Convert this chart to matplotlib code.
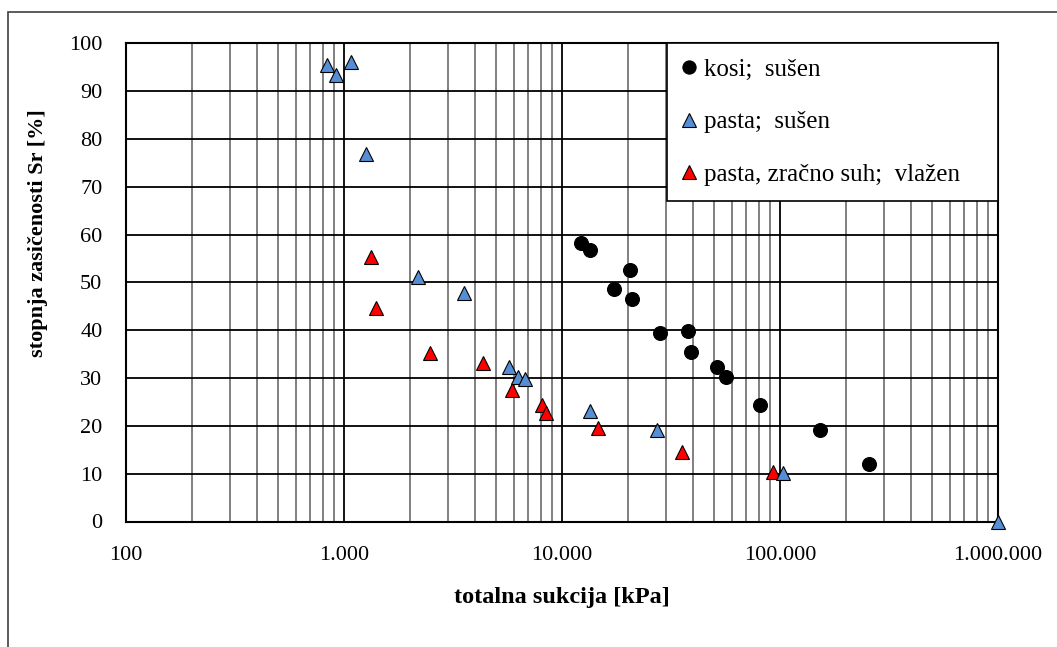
import matplotlib.pyplot as plt
from matplotlib.patches import Rectangle
from matplotlib.ticker import FixedLocator, FuncFormatter
import numpy as np

plt.rcParams['font.family'] = ['Liberation Serif', 'DejaVu Serif']

# kosi; sušen
kosi_x = [12220, 13430, 20560, 17330, 20940, 28180, 37960, 39050, 51530, 56490, 80910, 152400, 256800]
kosi_y = [58.2, 56.7, 52.6, 48.6, 46.5, 39.5, 39.9, 35.5, 32.4, 30.3, 24.3, 19.1, 12.1]

# pasta; sušen
pasta_x = [837, 918, 1077, 1262, 2178, 3548, 5728, 6266, 6790, 13430, 27160, 102800, 1000000]
pasta_y = [95.5, 93.4, 96.0, 76.9, 51.2, 47.7, 32.4, 30.2, 29.7, 23.2, 19.1, 10.1, 0.0]

# pasta, zračno suh; vlažen
vlazen_x = [1330, 1402, 2477, 4355, 5916, 8070, 8418, 14690, 35480, 93100]
vlazen_y = [55.3, 44.6, 35.3, 33.2, 27.6, 24.3, 22.6, 19.5, 14.6, 10.4]

y_ticks = list(range(0, 101, 10))
x_major = [100, 1000, 10000, 100000, 1000000]

fig = plt.figure(figsize=(10.57, 6.47), dpi=100)
ax = fig.add_axes([126 / 1057, 1 - 521.5 / 647, 872 / 1057, 478.2 / 647])

ax.set_xscale('log')
ax.set_xlim(100, 1e6)
ax.set_ylim(0, 100)

minor = [m * 10 ** e for e in range(2, 6) for m in range(2, 10)]
ax.xaxis.set_major_locator(FixedLocator(x_major))
ax.xaxis.set_minor_locator(FixedLocator(minor))
ax.yaxis.set_major_locator(FixedLocator(y_ticks))
ax.xaxis.set_major_formatter(FuncFormatter(lambda v, p: f"{int(round(v)):,}".replace(',', '.')))
ax.xaxis.set_minor_formatter(FuncFormatter(lambda v, p: ''))

ax.grid(which='major', axis='both', color='black', lw=1.3, zorder=1)
ax.grid(which='minor', axis='x', color='#808080', lw=1.4, zorder=1)
ax.set_axisbelow(True)
for s in ax.spines.values():
    s.set_linewidth(1.5)
    s.set_color('black')

ax.tick_params(which='both', length=0)
ax.tick_params(axis='y', pad=17, labelsize=16)
ax.tick_params(axis='x', pad=17.5, labelsize=16)

ax.plot(kosi_x, kosi_y, 'o', ms=10, mfc='black', mec='black', mew=0.8,
        label='kosi;  sušen', clip_on=False, zorder=3)
ax.plot(pasta_x, pasta_y, '^', ms=10, mfc='#558ED5', mec='black', mew=0.8,
        label='pasta;  sušen', clip_on=False, zorder=5)
ax.plot(vlazen_x, vlazen_y, '^', ms=10, mfc='#FF0000', mec='black', mew=0.8,
        label='pasta, zračno suh;  vlažen', clip_on=False, zorder=4)

leg = ax.legend(loc='upper left', bbox_to_anchor=(0.6204, 0.679, 0.3796, 0.321),
                mode='expand', fontsize=18, frameon=True, fancybox=False,
                framealpha=1, edgecolor='black', borderpad=0.6,
                labelspacing=1.2, handlelength=0.6, handletextpad=0.3,
                borderaxespad=0, markerscale=0.95)
leg.get_frame().set_linewidth(1.2)
leg.set_zorder(10)

fig.text(38 / 1057, 1 - 233 / 647, 'stopnja zasičenosti Sr [%]', rotation=90,
         ha='center', va='center', fontsize=16, fontweight='bold')
fig.text(561.5 / 1057, 1 - 598 / 647, 'totalna sukcija [kPa]',
         ha='center', va='center', fontsize=17.5, fontweight='bold')

# chart area border
fig.patches.append(Rectangle((8 / 1057, -0.1), 1.2, 1.1 - 11.5 / 647, transform=fig.transFigure,
                             fill=False, edgecolor='#404040', lw=1.2))

fig.savefig('out.png', dpi=100)
